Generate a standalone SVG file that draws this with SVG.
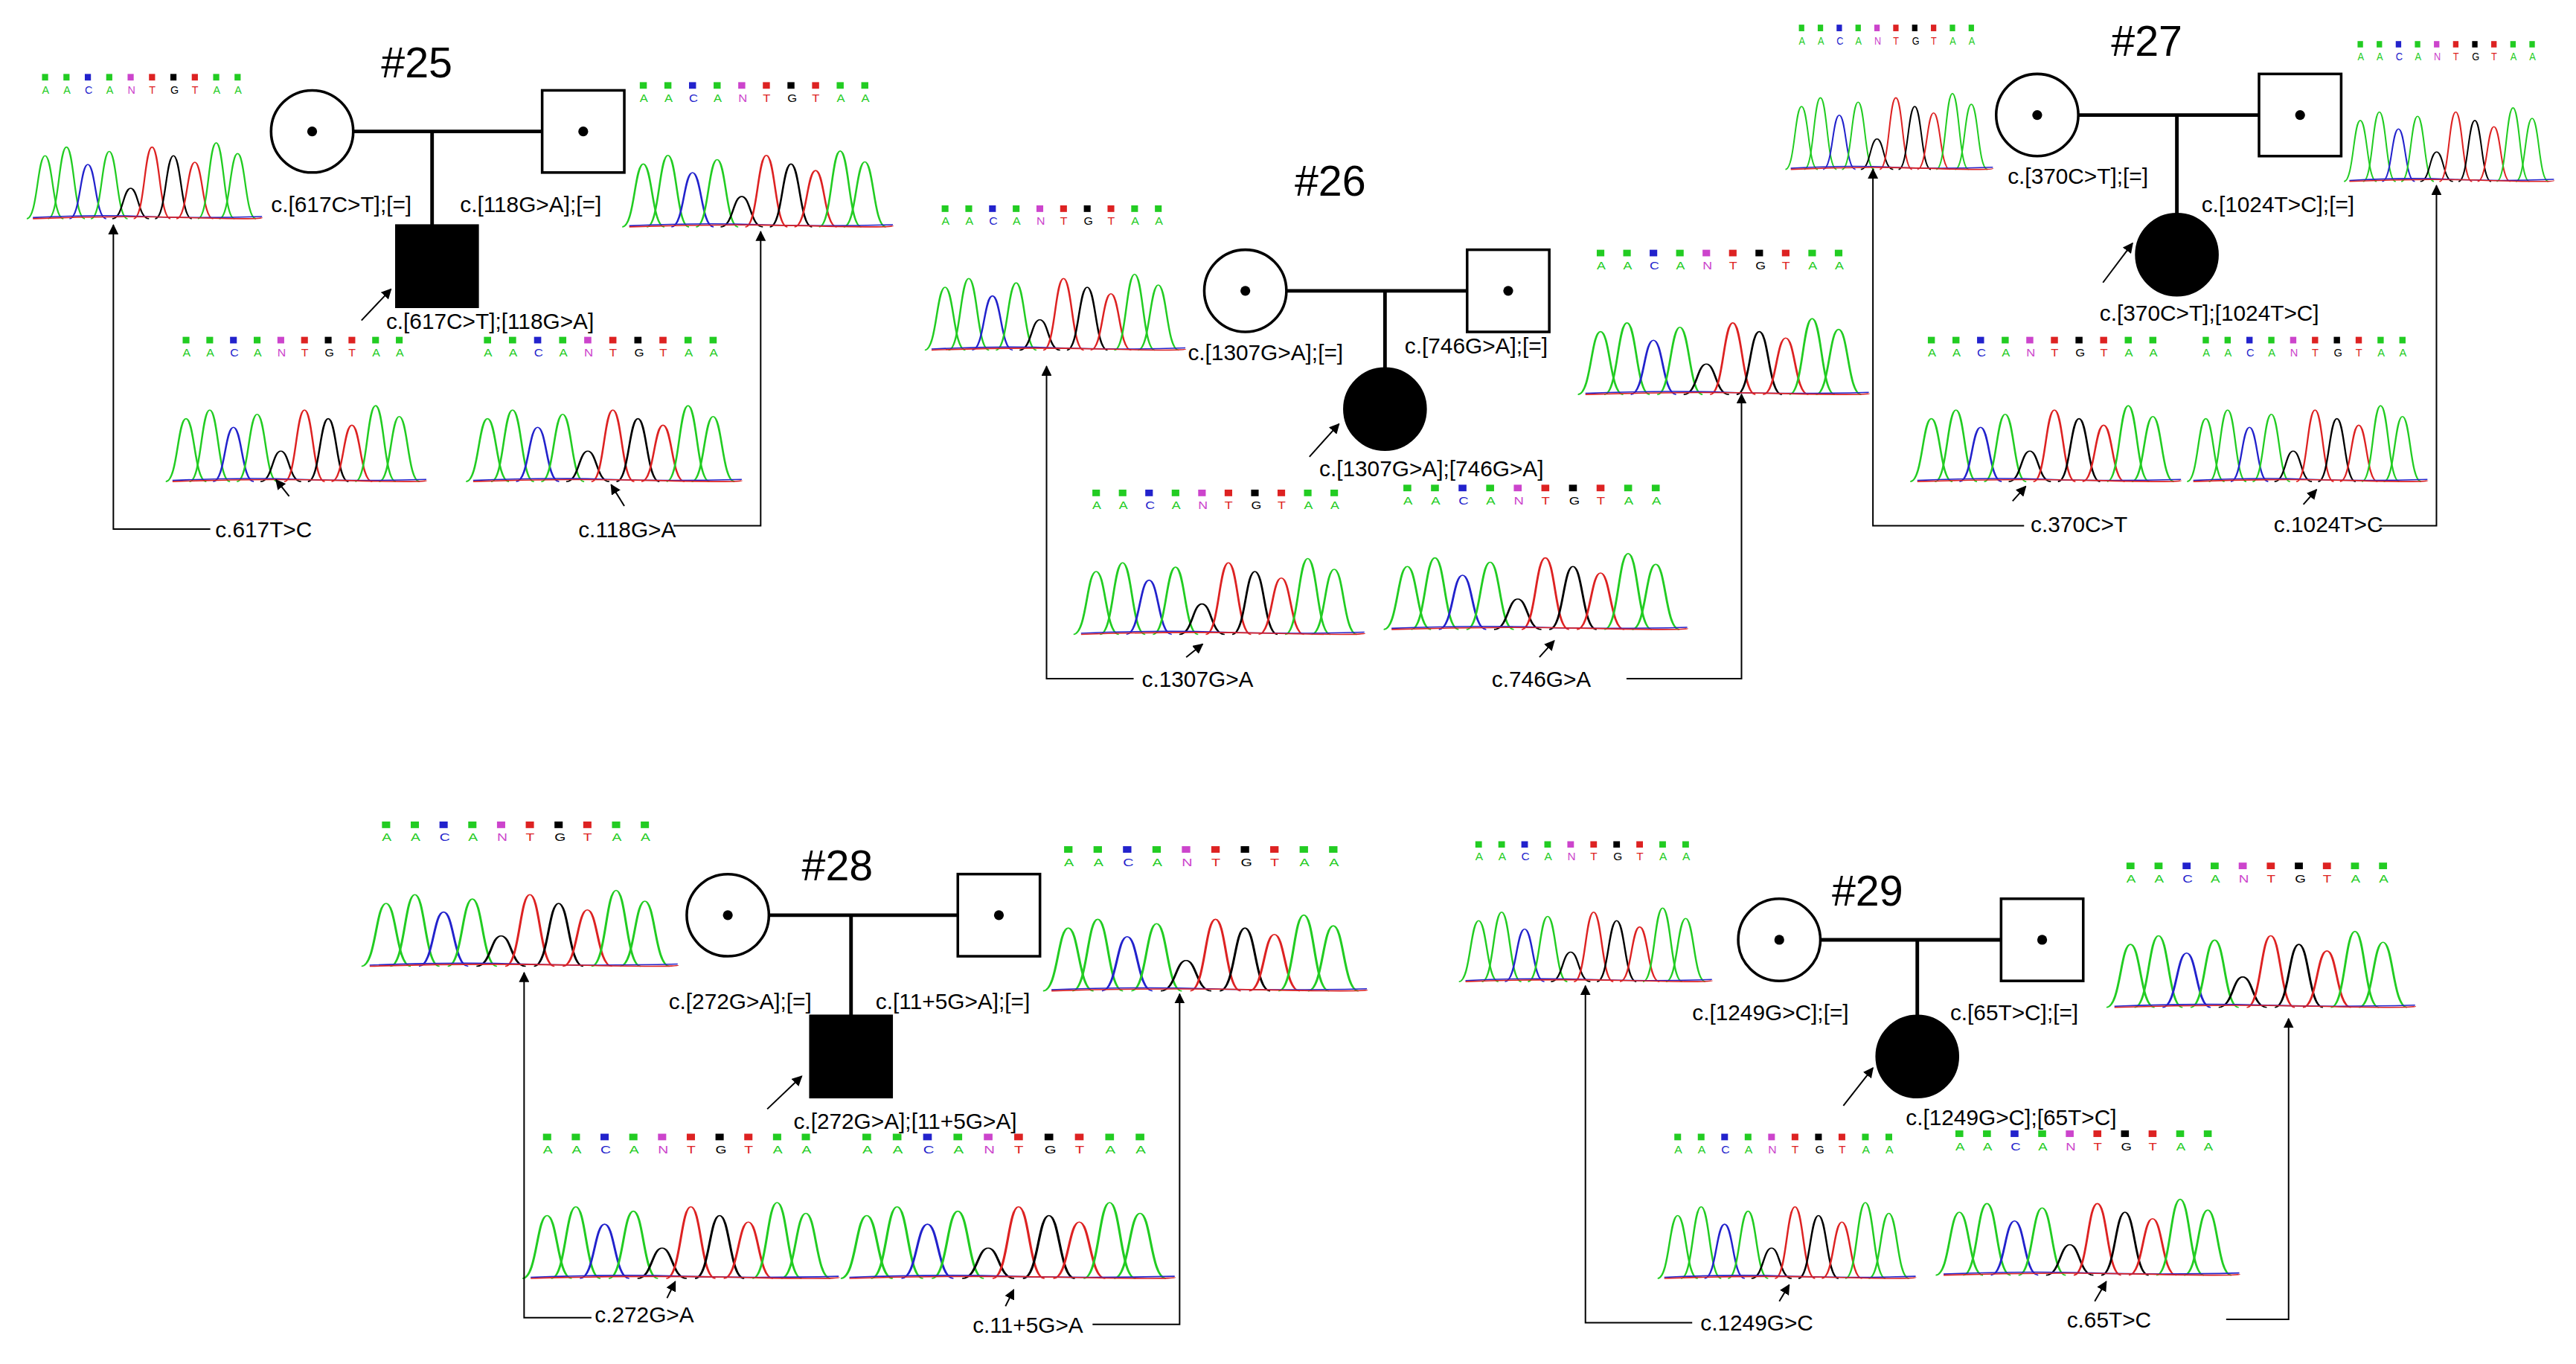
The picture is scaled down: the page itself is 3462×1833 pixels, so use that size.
<svg xmlns="http://www.w3.org/2000/svg" width="3462" height="1833" viewBox="0 0 3462 1833">
<style>
.ln{stroke:#000;stroke-width:2.2;fill:none}
.sym{stroke:#000;stroke-width:1.6;fill:#fff}
.aff{fill:#000;stroke:#000}
.cn{stroke:#000;stroke-width:0.9;fill:none}
.lb{font-family:"Liberation Sans",Arial,sans-serif;font-size:13.5px;fill:#000}
.tt{font-family:"Liberation Sans",Arial,sans-serif;font-size:26px;fill:#000}
.pa{stroke-width:1.1;fill:none}
.b{font-family:"Liberation Sans",Arial,sans-serif;font-size:7px}
</style>
<defs>
<marker id="ah" viewBox="0 0 10 10" refX="9" refY="5" markerWidth="7" markerHeight="7" orient="auto-start-reverse"><path d="M0 0L10 5L0 10z" fill="#000"/></marker>
<g id="chrom">
<g class="b">
<rect x="6" y="0" width="4" height="4" fill="#2c2"/><text x="6" y="12" fill="#2c2">A</text>
<rect x="20" y="0" width="4" height="4" fill="#2c2"/><text x="20" y="12" fill="#2c2">A</text>
<rect x="34" y="0" width="4" height="4" fill="#22c"/><text x="34" y="12" fill="#22c">C</text>
<rect x="48" y="0" width="4" height="4" fill="#2c2"/><text x="48" y="12" fill="#2c2">A</text>
<rect x="62" y="0" width="4" height="4" fill="#c4c"/><text x="62" y="12" fill="#c4c">N</text>
<rect x="76" y="0" width="4" height="4" fill="#d22"/><text x="76" y="12" fill="#d22">T</text>
<rect x="90" y="0" width="4" height="4" fill="#000"/><text x="90" y="12" fill="#000">G</text>
<rect x="104" y="0" width="4" height="4" fill="#d22"/><text x="104" y="12" fill="#d22">T</text>
<rect x="118" y="0" width="4" height="4" fill="#2c2"/><text x="118" y="12" fill="#2c2">A</text>
<rect x="132" y="0" width="4" height="4" fill="#2c2"/><text x="132" y="12" fill="#2c2">A</text>
</g>
<g transform="translate(0,30) scale(1,0.66)">
<path class="pa" stroke="#2c2" d="M-4 88C3 88 3 30 8 30C13 30 13 88 20 88"/>
<path class="pa" stroke="#2c2" d="M10 88C17 88 17 22 22 22C27 22 27 88 34 88"/>
<path class="pa" stroke="#22c" d="M24 88C31 88 31 38 36 38C41 38 41 88 48 88"/>
<path class="pa" stroke="#2c2" d="M38 88C45 88 45 26 50 26C55 26 55 88 62 88"/>
<path class="pa" stroke="#000" d="M52 88C59 88 59 60 64 60C69 60 69 88 76 88"/>
<path class="pa" stroke="#d22" d="M66 88C73 88 73 22 78 22C83 22 83 88 90 88"/>
<path class="pa" stroke="#000" d="M80 88C87 88 87 30 92 30C97 30 97 88 104 88"/>
<path class="pa" stroke="#d22" d="M94 88C101 88 101 36 106 36C111 36 111 88 118 88"/>
<path class="pa" stroke="#2c2" d="M108 88C115 88 115 18 120 18C125 18 125 88 132 88"/>
<path class="pa" stroke="#2c2" d="M122 88C129 88 129 28 134 28C139 28 139 88 146 88"/>
<path class="pa" stroke="#22c" d="M0 87Q40 84 75 86T150 86"/>
<path class="pa" stroke="#d22" d="M0 88Q50 85 100 87T150 87"/>
</g>
</g>
</defs>
<rect width="3462" height="1833" fill="#fff"/>
<g transform="scale(2.208)">
<g id="fam25">
<text class="tt" x="232" y="47">#25</text>
<use href="#chrom" transform="translate(20,45) scale(0.93,1)"/>
<use href="#chrom" transform="translate(383,50) scale(1.07,1)"/>
<use href="#chrom" transform="translate(105,205) scale(1.03,1)"/>
<use href="#chrom" transform="translate(288,205) scale(1.09,1)"/>
<path class="ln" d="M215 80H330M263 80V137"/>
<circle class="sym" cx="190" cy="80" r="25"/><circle cx="190" cy="80" r="3"/>
<rect class="sym" x="330" y="55" width="50" height="50"/><circle cx="355" cy="80" r="3"/>
<rect class="aff" x="241" y="137" width="50" height="50"/>
<text class="lb" x="165" y="129">c.[617C&gt;T];[=]</text>
<text class="lb" x="280" y="129">c.[118G&gt;A];[=]</text>
<text class="lb" x="235" y="200">c.[617C&gt;T];[118G&gt;A]</text>
<text class="lb" x="131" y="327">c.617T&gt;C</text>
<text class="lb" x="352" y="327">c.118G&gt;A</text>
</g>
<g id="fam26">
<text class="tt" x="788" y="119">#26</text>
<use href="#chrom" transform="translate(567,125) scale(1.03,1)"/>
<use href="#chrom" transform="translate(965,152) scale(1.15,1)"/>
<use href="#chrom" transform="translate(658,298) scale(1.15,1)"/>
<use href="#chrom" transform="translate(847,295) scale(1.2,1)"/>
<path class="ln" d="M783 177H893M843 177V225"/>
<circle class="sym" cx="758" cy="177" r="25"/><circle cx="758" cy="177" r="3"/>
<rect class="sym" x="893" y="152" width="50" height="50"/><circle cx="918" cy="177" r="3"/>
<circle class="aff" cx="843" cy="249" r="25"/>
<text class="lb" x="723" y="219">c.[1307G&gt;A];[=]</text>
<text class="lb" x="855" y="215">c.[746G&gt;A];[=]</text>
<text class="lb" x="803" y="290">c.[1307G&gt;A];[746G&gt;A]</text>
<text class="lb" x="695" y="418">c.1307G&gt;A</text>
<text class="lb" x="908" y="418">c.746G&gt;A</text>
</g>
<g id="fam27">
<text class="tt" x="1285" y="34">#27</text>
<use href="#chrom" transform="translate(1090,15) scale(0.82,1)"/>
<use href="#chrom" transform="translate(1430,25) scale(0.83,0.97)"/>
<use href="#chrom" transform="translate(1167,205) scale(1.07,1)"/>
<use href="#chrom" transform="translate(1335,205) scale(0.95,1)"/>
<path class="ln" d="M1265 70H1375M1325 70V130"/>
<circle class="sym" cx="1240" cy="70" r="25"/><circle cx="1240" cy="70" r="3"/>
<rect class="sym" x="1375" y="45" width="50" height="50"/><circle cx="1400" cy="70" r="3"/>
<circle class="aff" cx="1325" cy="155" r="25"/>
<text class="lb" x="1222" y="112">c.[370C&gt;T];[=]</text>
<text class="lb" x="1340" y="129">c.[1024T&gt;C];[=]</text>
<text class="lb" x="1278" y="195">c.[370C&gt;T];[1024T&gt;C]</text>
<text class="lb" x="1236" y="324">c.370C&gt;T</text>
<text class="lb" x="1384" y="324">c.1024T&gt;C</text>
</g>
<g id="fam28">
<text class="tt" x="488" y="536">#28</text>
<use href="#chrom" transform="translate(225,500) scale(1.25,1)"/>
<use href="#chrom" transform="translate(640,515) scale(1.28,1)"/>
<use href="#chrom" transform="translate(323,690) scale(1.25,1)"/>
<use href="#chrom" transform="translate(517,690) scale(1.32,1)"/>
<path class="ln" d="M468 557H583M518 557V618"/>
<circle class="sym" cx="443" cy="557" r="25"/><circle cx="443" cy="557" r="3"/>
<rect class="sym" x="583" y="532" width="50" height="50"/><circle cx="608" cy="557" r="3"/>
<rect class="aff" x="493" y="618" width="50" height="50"/>
<text class="lb" x="407" y="614">c.[272G&gt;A];[=]</text>
<text class="lb" x="533" y="614">c.[11+5G&gt;A];[=]</text>
<text class="lb" x="483" y="687">c.[272G&gt;A];[11+5G&gt;A]</text>
<text class="lb" x="362" y="805">c.272G&gt;A</text>
<text class="lb" x="592" y="811">c.11+5G&gt;A</text>
</g>
<g id="fam29">
<text class="tt" x="1115" y="551">#29</text>
<use href="#chrom" transform="translate(892,512) scale(1,0.97)"/>
<use href="#chrom" transform="translate(1287,525) scale(1.22,1)"/>
<use href="#chrom" transform="translate(1013,690) scale(1.02,1)"/>
<use href="#chrom" transform="translate(1183,688) scale(1.2,1)"/>
<path class="ln" d="M1108 572H1218M1167 572V620"/>
<circle class="sym" cx="1083" cy="572" r="25"/><circle cx="1083" cy="572" r="3"/>
<rect class="sym" x="1218" y="547" width="50" height="50"/><circle cx="1243" cy="572" r="3"/>
<circle class="aff" cx="1167" cy="643" r="25"/>
<text class="lb" x="1030" y="621">c.[1249G&gt;C];[=]</text>
<text class="lb" x="1187" y="621">c.[65T&gt;C];[=]</text>
<text class="lb" x="1160" y="685">c.[1249G&gt;C];[65T&gt;C]</text>
<text class="lb" x="1035" y="810">c.1249G&gt;C</text>
<text class="lb" x="1258" y="808">c.65T&gt;C</text>
</g>
<g id="connectors">
<path class="cn" marker-end="url(#ah)" d="M128 322H69V137"/>
<path class="cn" marker-end="url(#ah)" d="M410 320H463V141"/>
<path class="cn" marker-end="url(#ah)" d="M690 413H637V223"/>
<path class="cn" marker-end="url(#ah)" d="M990 413H1060V240"/>
<path class="cn" marker-end="url(#ah)" d="M1232 320H1140V103"/>
<path class="cn" marker-end="url(#ah)" d="M1448 320H1483V113"/>
<path class="cn" marker-end="url(#ah)" d="M360 802H319V592"/>
<path class="cn" marker-end="url(#ah)" d="M665 806H718V605"/>
<path class="cn" marker-end="url(#ah)" d="M1030 805H965V600"/>
<path class="cn" marker-end="url(#ah)" d="M1355 803H1393V620"/>
<path class="cn" marker-end="url(#ah)" d="M220 195L238 176"/>
<path class="cn" marker-end="url(#ah)" d="M797 278L815 258"/>
<path class="cn" marker-end="url(#ah)" d="M1280 172L1298 148"/>
<path class="cn" marker-end="url(#ah)" d="M467 675L488 655"/>
<path class="cn" marker-end="url(#ah)" d="M1122 673L1140 650"/>
<path class="cn" marker-end="url(#ah)" d="M176 302L168 292"/>
<path class="cn" marker-end="url(#ah)" d="M380 308L372 295"/>
<path class="cn" marker-end="url(#ah)" d="M722 400L732 392"/>
<path class="cn" marker-end="url(#ah)" d="M937 400L946 390"/>
<path class="cn" marker-end="url(#ah)" d="M1225 305L1233 296"/>
<path class="cn" marker-end="url(#ah)" d="M1402 307L1410 298"/>
<path class="cn" marker-end="url(#ah)" d="M406 790L411 780"/>
<path class="cn" marker-end="url(#ah)" d="M612 795L617 785"/>
<path class="cn" marker-end="url(#ah)" d="M1083 792L1089 782"/>
<path class="cn" marker-end="url(#ah)" d="M1275 792L1282 780"/>
</g>
</g>
</svg>
